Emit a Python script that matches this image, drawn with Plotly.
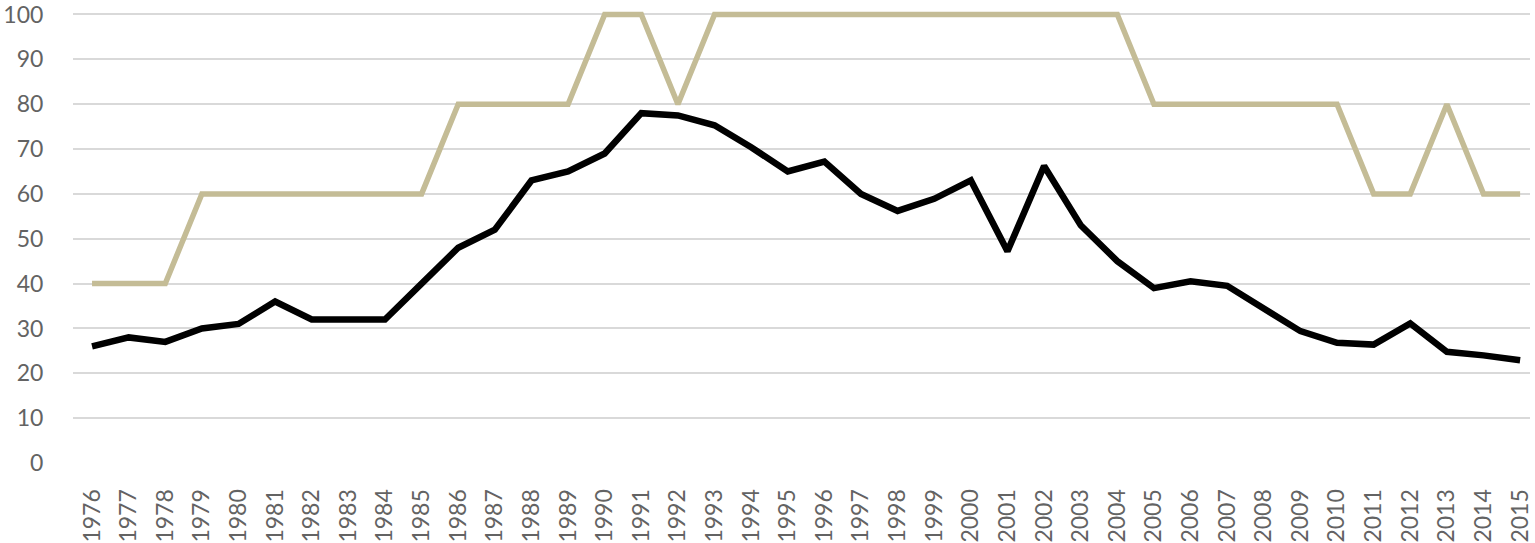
import plotly.graph_objects as go

years = list(range(1976, 2016))
black_values = [26, 28, 27, 30, 31, 36, 32, 32, 32, 40,
                48, 52, 63, 65, 69, 78, 77.5, 75.3, 70.4, 65,
                67.2, 60, 56.2, 58.9, 63, 47.2, 66.2, 53, 45, 39,
                40.5, 39.5, 34.5, 29.4, 26.8, 26.4, 31.1, 24.8, 24, 22.9]
tan_values = [40, 40, 40, 60, 60, 60, 60, 60, 60, 60,
              80, 80, 80, 80, 100, 100, 80, 100, 100, 100,
              100, 100, 100, 100, 100, 100, 100, 100, 100, 80,
              80, 80, 80, 80, 80, 60, 60, 80, 60, 60]
y_ticks = [0, 10, 20, 30, 40, 50, 60, 70, 80, 90, 100]

fig = go.Figure()
fig.add_trace(go.Scatter(x=years, y=tan_values, mode="lines",
                         line=dict(color="#C4BC96", width=5.5), cliponaxis=False,
                         showlegend=False))
fig.add_trace(go.Scatter(x=years, y=black_values, mode="lines",
                         line=dict(color="#000000", width=6.5), cliponaxis=False,
                         showlegend=False))

fig.update_layout(
    width=1535, height=543,
    margin=dict(l=73, r=5, t=10, b=80, autoexpand=False),
    paper_bgcolor="white", plot_bgcolor="white",
    font=dict(family="Lato, 'Open Sans', sans-serif", color="#636363", size=23),
)
fig.update_xaxes(range=[1975.48, 2015.27], tickvals=years,
                 ticktext=[str(y) for y in years], tickangle=-90,
                 showgrid=False, zeroline=False, showline=False,
                 ticks="outside", ticklen=16, tickcolor="white",
                 automargin=False, ticklabeloverflow="allow",
                 tickfont=dict(size=23, color="#636363"))
fig.update_yaxes(range=[0, 101], tickvals=y_ticks,
                 showgrid=True, gridcolor="#D9D9D9", gridwidth=2,
                 zeroline=False, showline=False,
                 ticks="outside", ticklen=24, tickcolor="white",
                 automargin=False, ticklabeloverflow="allow",
                 tickfont=dict(size=23, color="#636363"))

fig.write_html("out.html", config={"displayModeBar": False},
               post_script="document.body.style.margin='0';document.body.style.overflow='hidden';")
